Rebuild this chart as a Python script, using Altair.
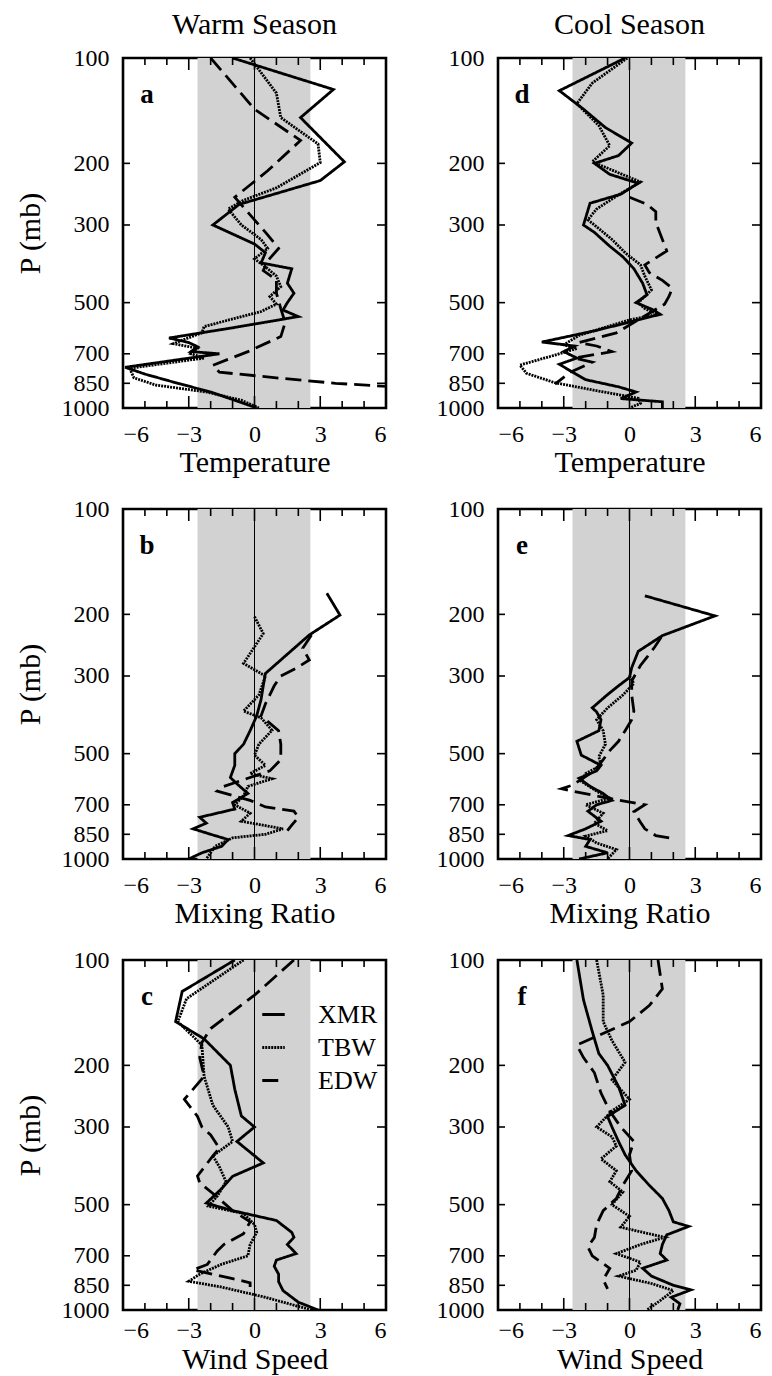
import altair as alt
import pandas as pd

FONT = "Liberation Serif"
W, H = 263, 350

X_TICKS_MAJOR = [-6, -3, 0, 3, 6]
X_TICKS_MINOR = [-5, -4, -2, -1, 1, 2, 4, 5]
P_TICKS = [100, 200, 300, 500, 700, 850, 1000]
BAND = [-2.6, 2.55]
SERIES = ["XMR", "TBW", "EDW"]
DASHES = [[1, 0], [2, 1], [16, 7]]

# ---------------- panel a : warm season temperature ----------------
A_XMR_P = [100, 123, 148, 198, 224, 262, 300, 340, 360, 385, 400, 440, 470, 500, 525, 548, 590, 631, 650, 668, 690, 700, 765, 800, 850, 900, 960, 1000]
A_XMR_V = [-1.0, 3.6, 2.1, 4.1, 3.0, -0.7, -1.9, 0.0, 0.5, 0.3, 1.7, 1.5, 1.8, 1.5, 1.3, 2.0, -1.0, -3.9, -3.0, -2.6, -2.9, -1.6, -5.9, -5.0, -3.5, -2.0, -0.7, 0.1]
A_TBW_P = [100, 126, 148, 176, 199, 235, 255, 270, 300, 330, 350, 375, 395, 420, 450, 480, 505, 530, 585, 610, 640, 655, 675, 700, 720, 770, 820, 860, 900, 950, 1000]
A_TBW_V = [-0.2, 1.0, 1.2, 2.9, 3.0, 1.0, -0.5, -1.2, -0.6, 0.3, 0.6, 0.0, 0.5, 1.0, 1.2, 0.7, 1.0, 0.3, -2.3, -2.4, -3.3, -3.7, -2.6, -2.9, -2.3, -5.7, -5.5, -4.5, -2.2, -0.6, 0.2]
A_EDW_P = [100, 140, 172, 210, 250, 290, 320, 350, 380, 405, 430, 470, 520, 570, 625, 690, 755, 790, 820, 850, 867]
A_EDW_V = [-2.0, 0.0, 2.1, 0.6, -0.9, 0.0, 0.6, 1.1, 0.6, 0.4, 1.0, 1.0, 1.2, 1.4, 1.2, -0.3, -1.9, -1.6, 1.0, 3.7, 6.0]

# ---------------- panel b : warm season mixing ratio ----------------
B_XMR_P = [174, 201, 229, 295, 320, 350, 390, 430, 470, 500, 540, 585, 610, 650, 690, 720, 760, 790, 820, 850, 880, 920, 960, 1000]
B_XMR_V = [3.3, 3.9, 2.5, 0.5, 0.4, 0.3, 0.1, -0.2, -0.5, -0.9, -0.9, -1.1, -0.8, -0.3, -1.0, -0.9, -2.5, -2.2, -2.8, -2.0, -1.2, -1.5, -2.4, -3.0]
B_TBW_P = [203, 227, 276, 300, 340, 378, 395, 429, 470, 505, 540, 570, 590, 620, 660, 700, 740, 780, 820, 850, 870, 920, 1000]
B_TBW_V = [0.0, 0.4, -0.5, 0.5, 0.2, -0.5, 0.3, 0.8, 0.2, 0.0, 0.5, -0.2, 0.8, -0.3, -0.5, -0.9, -0.2, -0.6, 1.3, 0.5, -1.0, -1.8, -2.2]
B_EDW_P = [229, 250, 270, 285, 300, 320, 360, 390, 430, 470, 520, 560, 620, 640, 680, 710, 730, 760, 800, 830]
B_EDW_V = [2.6, 2.2, 2.5, 1.9, 1.2, 0.9, 0.5, 0.3, 1.1, 1.2, 1.2, 0.7, -1.4, -1.7, -0.2, 0.5, 1.8, 2.0, 1.7, 1.5]

# ---------------- panel c : warm season wind speed ----------------
C_XMR_P = [100, 123, 150, 168, 200, 234, 279, 300, 330, 380, 415, 450, 495, 520, 555, 600, 620, 650, 690, 720, 750, 790, 830, 880, 950, 1000]
C_XMR_V = [-0.9, -3.3, -3.6, -2.3, -1.1, -0.9, -0.6, 0.0, -0.8, 0.4, -1.0, -1.5, -2.2, -1.0, 1.0, 1.7, 1.8, 1.5, 1.9, 1.0, 0.9, 1.1, 1.1, 1.3, 2.0, 2.9]
C_TBW_P = [100, 129, 150, 175, 215, 260, 300, 330, 363, 390, 430, 473, 505, 530, 570, 600, 650, 700, 740, 790, 828, 860, 920, 1000]
C_TBW_V = [-0.5, -3.1, -3.5, -2.4, -2.3, -1.9, -1.2, -1.0, -1.9, -1.6, -1.3, -1.7, -2.1, -0.5, 0.0, 0.1, -0.2, -0.3, -1.5, -2.5, -3.0, -1.5, 0.5, 2.6]
C_EDW_P = [100, 126, 157, 172, 190, 215, 250, 280, 300, 316, 345, 363, 414, 433, 470, 520, 560, 605, 650, 678, 741, 768, 811, 836, 860]
C_EDW_V = [1.8, 0.0, -2.0, -2.4, -2.5, -2.3, -3.2, -2.6, -2.4, -2.0, -1.6, -1.9, -2.6, -2.5, -1.8, -1.0, -0.2, -0.5, -1.4, -1.7, -2.15, -2.8, -1.1, -0.2, -0.2]

# ---------------- panel d : cool season temperature ----------------
D_XMR_P = [100, 124, 140, 158, 175, 190, 200, 215, 228, 245, 260, 300, 315, 345, 370, 400, 440, 475, 500, 525, 540, 600, 648, 665, 690, 720, 750, 790, 830, 870, 900, 940, 960, 1000]
D_XMR_V = [-0.2, -3.2, -2.1, -1.1, 0.1, -0.5, -1.6, -0.9, 0.4, -0.4, -1.8, -2.1, -1.6, -0.9, -0.3, 0.2, 0.6, 0.8, 0.3, 1.1, 1.4, -1.5, -4.0, -2.5, -3.0, -2.4, -3.2, -2.6, -2.0, -0.5, 0.3, -0.4, 1.5, 1.5]
D_TBW_P = [100, 118, 135, 156, 178, 198, 226, 246, 270, 290, 300, 330, 360, 390, 420, 460, 500, 520, 540, 560, 620, 660, 676, 706, 754, 796, 847, 890, 938, 970, 1000]
D_TBW_V = [-0.1, -1.7, -2.4, -1.4, -0.9, -1.7, 0.5, -0.5, -1.5, -1.9, -1.6, -0.8, -0.2, 0.5, 0.7, 1.0, 0.4, 0.7, 1.3, 0.0, -2.3, -3.0, -2.4, -3.4, -5.0, -4.7, -3.4, -1.6, 0.4, 0.5, 0.0]
D_EDW_P = [250, 262, 275, 295, 330, 356, 390, 410, 432, 455, 480, 505, 560, 610, 650, 665, 690, 720, 740, 790, 855]
D_EDW_V = [0.0, 0.8, 1.2, 1.2, 1.5, 1.7, 0.7, 0.9, 1.5, 1.95, 1.8, 1.6, 0.4, -0.6, -2.3, -1.5, -0.8, -2.5, -1.7, -2.7, -3.4]

# ---------------- panel e : cool season mixing ratio ----------------
E_XMR_P = [177, 202, 230, 255, 284, 303, 320, 339, 370, 380, 400, 430, 461, 505, 540, 560, 588, 620, 650, 680, 700, 730, 780, 820, 857, 880, 920, 960, 1000]
E_XMR_V = [0.7, 3.9, 1.5, 0.4, 0.1, 0.0, -0.5, -1.0, -1.7, -1.5, -1.3, -1.4, -2.4, -2.2, -1.3, -1.5, -2.3, -1.8, -1.2, -0.8, -1.5, -1.9, -1.3, -2.0, -2.8, -1.8, -2.0, -1.0, -2.3]
E_TBW_P = [300, 315, 340, 370, 400, 430, 470, 510, 540, 570, 600, 640, 670, 700, 740, 790, 830, 860, 900, 940, 1000]
E_TBW_V = [0.0, 0.2, -0.3, -1.0, -1.5, -1.2, -1.1, -1.4, -1.3, -2.0, -2.2, -1.5, -0.9, -2.0, -1.2, -1.6, -1.0, -2.0, -1.5, -0.6, -1.0]
E_EDW_P = [232, 248, 265, 280, 310, 340, 378, 400, 430, 461, 490, 520, 560, 615, 630, 640, 670, 700, 733, 785, 820, 857, 876]
E_EDW_V = [1.45, 1.15, 0.8, 0.5, 0.1, 0.1, 0.2, 0.1, -0.2, -0.5, -0.9, -1.2, -1.6, -2.6, -3.1, -2.6, -1.0, 0.7, 0.2, 0.5, 0.7, 1.2, 2.06]

# ---------------- panel f : cool season wind speed ----------------
F_XMR_P = [100, 130, 160, 185, 200, 230, 260, 280, 300, 330, 360, 400, 440, 480, 520, 560, 577, 610, 650, 690, 720, 760, 800, 850, 876, 920, 960, 1000]
F_XMR_V = [-2.4, -2.1, -1.7, -1.4, -1.0, -0.5, -0.2, -1.0, -0.8, -0.5, -0.2, 0.3, 0.9, 1.5, 1.8, 2.0, 2.7, 1.7, 1.5, 1.4, 1.7, 0.6, 1.0, 2.0, 2.8, 1.9, 2.3, 2.2]
F_TBW_P = [100, 126, 150, 170, 196, 220, 250, 270, 300, 320, 340, 370, 400, 430, 460, 500, 540, 580, 620, 650, 690, 730, 770, 800, 840, 880, 940, 1000]
F_TBW_V = [-1.5, -1.2, -1.2, -0.8, -0.2, -0.8, 0.0, -0.8, -1.5, -0.8, -0.6, -1.3, -0.6, -0.9, -0.3, -0.8, 0.0, -0.4, 1.6, 0.5, -0.6, 0.5, 0.3, -0.5, 1.0, 2.0, 1.4, 0.8]
F_EDW_P = [100, 121, 135, 150, 175, 190, 210, 240, 270, 300, 330, 360, 400, 440, 480, 520, 570, 620, 660, 700, 760, 820, 870]
F_EDW_V = [1.3, 1.5, 0.9, 0.0, -2.4, -2.1, -1.6, -1.3, -0.9, -0.4, 0.2, 0.0, 0.1, -0.3, -0.6, -1.2, -1.5, -1.6, -1.9, -1.7, -0.9, -1.2, -1.0]


def frame(xmr_p, xmr_v, tbw_p, tbw_v, edw_p, edw_v):
    rows = []
    for name, ps, vs in (("XMR", xmr_p, xmr_v), ("TBW", tbw_p, tbw_v), ("EDW", edw_p, edw_v)):
        for i, (p, v) in enumerate(zip(ps, vs)):
            rows.append({"series": name, "i": i, "p": p, "v": v})
    return pd.DataFrame(rows)


XS = alt.Scale(domain=[-6, 6], nice=False, zero=False)
YS = alt.Scale(type="log", domain=[100, 1000], reverse=True, nice=False)


def panel(letter, xtitle, df, ytitle=None, header=None, legend=False, bottom=False):
    XA = alt.Axis(title=xtitle, values=X_TICKS_MAJOR, format="d",
                  labelPadding=8 if bottom else 14, titlePadding=2 if bottom else 1)
    YA = alt.Axis(title=ytitle if ytitle else "", values=P_TICKS, format="d",
                  labelPadding=14, titlePadding=16)
    band = alt.Chart(pd.DataFrame({"x0": [BAND[0]], "x1": [BAND[1]]})).mark_rect(
        color="#d2d2d2"
    ).encode(
        x=alt.X("x0:Q", scale=XS, axis=XA), x2="x1:Q",
        y=alt.value(0), y2=alt.value(H),
    )
    zero = alt.Chart(pd.DataFrame({"v": [0]})).mark_rule(color="black", strokeWidth=1).encode(
        x=alt.X("v:Q", scale=XS, axis=XA), y=alt.value(0), y2=alt.value(H)
    )
    maj = pd.DataFrame({"v": X_TICKS_MAJOR})
    mnr = pd.DataFrame({"v": X_TICKS_MINOR})
    pt = pd.DataFrame({"p": P_TICKS})
    tick_layers = []
    for d, ln in ((maj, 12), (mnr, 7)):
        tick_layers.append(alt.Chart(d).mark_rule(color="black", strokeWidth=1.6).encode(
            x=alt.X("v:Q", scale=XS, axis=XA), y=alt.value(0), y2=alt.value(ln)))
        tick_layers.append(alt.Chart(d).mark_rule(color="black", strokeWidth=1.6).encode(
            x=alt.X("v:Q", scale=XS, axis=XA), y=alt.value(H), y2=alt.value(H - ln)))
    tick_layers.append(alt.Chart(pt).mark_rule(color="black", strokeWidth=1.6).encode(
        y=alt.Y("p:Q", scale=YS, axis=YA), x=alt.value(0), x2=alt.value(7)))
    tick_layers.append(alt.Chart(pt).mark_rule(color="black", strokeWidth=1.6).encode(
        y=alt.Y("p:Q", scale=YS, axis=YA), x=alt.value(W), x2=alt.value(W - 9)))

    if legend:
        leg = alt.Legend(
            orient="none", legendX=134, legendY=38, title=None,
            symbolType="M-0.75,0L0.75,0", symbolSize=900, symbolStrokeWidth=3,
            symbolStrokeColor="black", labelFont=FONT, labelFontSize=26,
            labelColor="black", labelOffset=28, rowPadding=3, padding=0,
        )
    else:
        leg = None

    lines = alt.Chart(df).mark_line(color="black", strokeWidth=2.8, clip=True).encode(
        x=alt.X("v:Q", scale=XS, axis=XA),
        y=alt.Y("p:Q", scale=YS, axis=YA),
        strokeDash=alt.StrokeDash("series:N", scale=alt.Scale(domain=SERIES, range=DASHES),
                                  legend=leg),
        order="i:Q",
    )
    lab = alt.Chart(pd.DataFrame({"t": [letter]})).mark_text(
        font=FONT, fontSize=27, fontWeight="bold", align="center", baseline="middle",
        color="black",
    ).encode(x=alt.value(24), y=alt.value(37), text="t:N")

    ch = alt.layer(band, zero, *tick_layers, lines, lab).properties(width=W, height=H)
    if header:
        ch = ch.properties(title=alt.TitleParams(
            header, font=FONT, fontSize=30, fontWeight="normal", color="black", offset=6))
    return ch


pa = panel("a", "Temperature", frame(A_XMR_P, A_XMR_V, A_TBW_P, A_TBW_V, A_EDW_P, A_EDW_V), "P (mb)", "Warm Season")
pd_ = panel("d", "Temperature", frame(D_XMR_P, D_XMR_V, D_TBW_P, D_TBW_V, D_EDW_P, D_EDW_V), None, "Cool Season")
pb = panel("b", "Mixing Ratio", frame(B_XMR_P, B_XMR_V, B_TBW_P, B_TBW_V, B_EDW_P, B_EDW_V), "P (mb)")
pe = panel("e", "Mixing Ratio", frame(E_XMR_P, E_XMR_V, E_TBW_P, E_TBW_V, E_EDW_P, E_EDW_V), None)
pc = panel("c", "Wind Speed", frame(C_XMR_P, C_XMR_V, C_TBW_P, C_TBW_V, C_EDW_P, C_EDW_V), "P (mb)", legend=True, bottom=True)
pf = panel("f", "Wind Speed", frame(F_XMR_P, F_XMR_V, F_TBW_P, F_TBW_V, F_EDW_P, F_EDW_V), None, bottom=True)


def row(l, r):
    return alt.hconcat(l, r, spacing=45).resolve_scale(
        strokeDash="independent").resolve_legend(strokeDash="independent")


chart = alt.vconcat(row(pa, pd_), row(pb, pe), row(pc, pf), spacing=16).resolve_scale(
    strokeDash="independent").resolve_legend(strokeDash="independent").properties(
    padding={"left": 5, "top": 0, "right": 0, "bottom": 0}, background="white"
).configure_view(stroke="black", strokeWidth=2.6).configure_axis(
    domain=False, ticks=False, tickSize=0, grid=False, labelFont=FONT, titleFont=FONT,
    labelFontSize=24, titleFontSize=30, titleFontWeight="normal", labelColor="black",
    titleColor="black",
)

chart.save("out.html", embed_options={"renderer": "svg", "actions": False})
